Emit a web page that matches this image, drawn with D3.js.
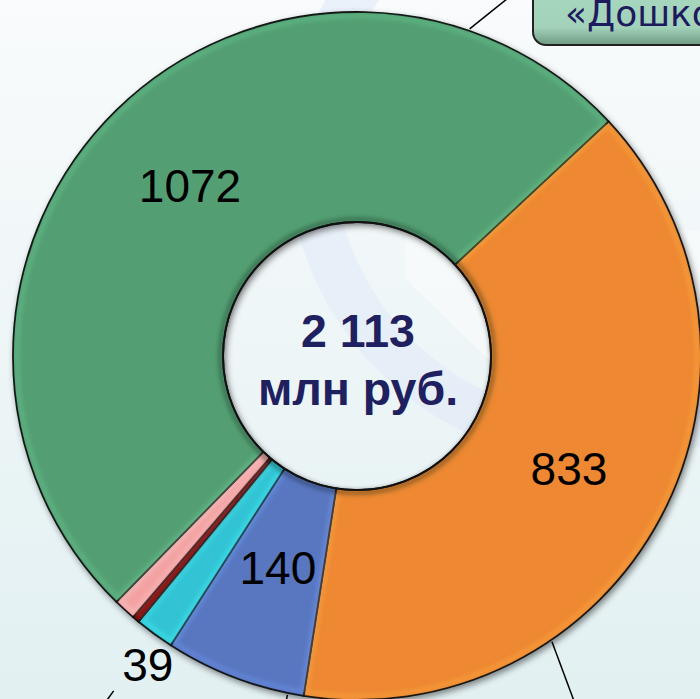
<!DOCTYPE html>
<html>
<head>
<meta charset="utf-8">
<script src="https://cdn.jsdelivr.net/npm/d3@7"></script>
<style>
  html, body { margin: 0; padding: 0; overflow: hidden; }
</style>
</head>
<body>
<div id="chart"></div>
<script>
// data, clockwise from the green/orange boundary
var categories = ['orange', 'blue', 'cyan', 'darkred', 'pink', 'Дошкольное образование'];
var values = [833, 140, 39, 7, 22, 1072];
var valueLabels = ['833', '140', '39', '', '', '1072'];
var totalLabel = ['2 113', 'млн руб.'];
var calloutText = '«Дошкольное образование»';

var colors = ['#ee8832', '#5877c0', '#33c4d4', '#7a0c0c', '#f3a2a2', '#529f73'];
var labelRadius = [240, 228, 372, 0, 0, 239];
var labelShift = [[0, 0], [2, -2], [10, 8], [0, 0], [0, 0], [0, 0]];

var width = 700,
  height = 699;

var cx = 357,
  cy = 356,
  outerR = 344,
  innerR = 134;

var startDeg = 47;

var svg = d3.select('#chart').append('svg')
  .attr('width', width)
  .attr('height', height);

var defs = svg.append('defs');

var bg = defs.append('linearGradient').attr('id', 'bg')
  .attr('x1', 0).attr('y1', 0).attr('x2', 0).attr('y2', 1);
bg.append('stop').attr('offset', '0%').attr('stop-color', '#f9fbfc');
bg.append('stop').attr('offset', '100%').attr('stop-color', '#e2f0f2');

var shadow = defs.append('filter').attr('id', 'shadow')
  .attr('x', '-20%').attr('y', '-20%').attr('width', '140%').attr('height', '140%');
shadow.append('feDropShadow')
  .attr('dx', 2).attr('dy', 3).attr('stdDeviation', 3)
  .attr('flood-color', '#000').attr('flood-opacity', 0.45);

var blur = defs.append('filter').attr('id', 'blur');
blur.append('feGaussianBlur').attr('stdDeviation', 2);

var boxGrad = defs.append('linearGradient').attr('id', 'boxGrad')
  .attr('x1', 0).attr('y1', 0).attr('x2', 0).attr('y2', 1);
boxGrad.append('stop').attr('offset', '0%').attr('stop-color', '#a9d9c0');
boxGrad.append('stop').attr('offset', '75%').attr('stop-color', '#a2d2b9');
boxGrad.append('stop').attr('offset', '100%').attr('stop-color', '#6f9a83');

svg.append('rect')
  .attr('width', width)
  .attr('height', height)
  .attr('fill', 'url(#bg)');

// faint watermark bands
var wm = svg.append('g').attr('opacity', 0.6);
wm.append('circle')
  .attr('cx', 600).attr('cy', 150)
  .attr('r', 290)
  .attr('fill', 'none')
  .attr('stroke', '#e2ebf9')
  .attr('stroke-width', 46);
wm.append('path')
  .attr('d', 'M405,230 L405,278 L520,390 L700,390 L700,230 Z')
  .attr('fill', '#fbfcfd');

var g = svg.append('g').attr('transform', 'translate(' + cx + ',' + cy + ')');

var rad = function(d) { return d * Math.PI / 180; };

var pie = d3.pie()
  .sort(null)
  .value(function(d) { return d; })
  .startAngle(rad(startDeg))
  .endAngle(rad(startDeg + 360));

var arcs = pie(values);

var arc = d3.arc().innerRadius(innerR).outerRadius(outerR);
var bevelArc = d3.arc().innerRadius(innerR + 4).outerRadius(outerR - 4).padAngle(0.012);

var donut = g.append('g').attr('filter', 'url(#shadow)');

donut.selectAll('path.slice')
  .data(arcs)
  .enter().append('path')
  .attr('class', 'slice')
  .attr('d', arc)
  .attr('fill', function(d, i) { return colors[i]; })
  .attr('stroke', '#111')
  .attr('stroke-width', 1.8)
  .attr('stroke-linejoin', 'round');

// bevel highlight
g.selectAll('path.bevel')
  .data(arcs)
  .enter().append('path')
  .attr('class', 'bevel')
  .attr('d', bevelArc)
  .attr('fill', 'none')
  .attr('stroke', function(d, i) { return d3.color(colors[i]).brighter(0.8); })
  .attr('stroke-width', 2.5)
  .attr('stroke-opacity', 0.6)
  .attr('filter', 'url(#blur)');

// inner hole shadow ring
g.append('circle')
  .attr('r', innerR + 3)
  .attr('fill', 'none')
  .attr('stroke', '#000')
  .attr('stroke-opacity', 0.35)
  .attr('stroke-width', 5)
  .attr('filter', 'url(#blur)');
g.append('circle')
  .attr('r', innerR)
  .attr('fill', 'none')
  .attr('stroke', '#111')
  .attr('stroke-width', 1.8);

// value labels
g.selectAll('text.value')
  .data(arcs)
  .enter().append('text')
  .attr('class', 'value')
  .attr('transform', function(d, i) {
    var a = (d.startAngle + d.endAngle) / 2;
    var r = labelRadius[i];
    return 'translate(' + (r * Math.sin(a) + labelShift[i][0]) + ',' +
      (-r * Math.cos(a) + labelShift[i][1]) + ')';
  })
  .attr('text-anchor', 'middle')
  .attr('dy', '0.36em')
  .attr('font-family', '"Liberation Sans", Arial, sans-serif')
  .attr('font-size', 46)
  .attr('fill', '#000')
  .text(function(d, i) { return valueLabels[i]; });

// total in the hole
g.selectAll('text.total')
  .data(totalLabel)
  .enter().append('text')
  .attr('class', 'total')
  .attr('text-anchor', 'middle')
  .attr('x', 1)
  .attr('y', function(d, i) { return -9 + i * 58; })
  .attr('font-family', '"Liberation Sans", Arial, sans-serif')
  .attr('font-weight', 'bold')
  .attr('font-size', 46.5)
  .attr('fill', '#1f2060')
  .text(function(d) { return d; });

// leader lines, polar (deg, radius)
var leaders = [
  [[19, 346], [23, 390]],
  [[145.7, 346], [147.9, 410]],
  [[191.6, 346], [191.6, 360]],
  [[216, 414], [216, 432]]
];
var polar = function(p) {
  return [p[1] * Math.sin(rad(p[0])), -p[1] * Math.cos(rad(p[0]))];
};
g.selectAll('line.leader')
  .data(leaders)
  .enter().append('line')
  .attr('class', 'leader')
  .attr('x1', function(d) { return polar(d[0])[0]; })
  .attr('y1', function(d) { return polar(d[0])[1]; })
  .attr('x2', function(d) { return polar(d[1])[0]; })
  .attr('y2', function(d) { return polar(d[1])[1]; })
  .attr('stroke', '#000')
  .attr('stroke-width', 1.5);

// callout box (cut by the top/right edge as in the original)
var box = svg.append('g');
box.append('rect')
  .attr('x', 533).attr('y', -25)
  .attr('width', 240).attr('height', 70)
  .attr('rx', 13)
  .attr('fill', 'url(#boxGrad)')
  .attr('stroke', '#222')
  .attr('stroke-width', 2);
box.append('text')
  .attr('x', 565).attr('y', 26)
  .attr('font-family', '"DejaVu Sans", Tahoma, sans-serif')
  .attr('font-size', 36)
  .attr('fill', '#1d1b5e')
  .text(calloutText);
</script>
</body>
</html>
